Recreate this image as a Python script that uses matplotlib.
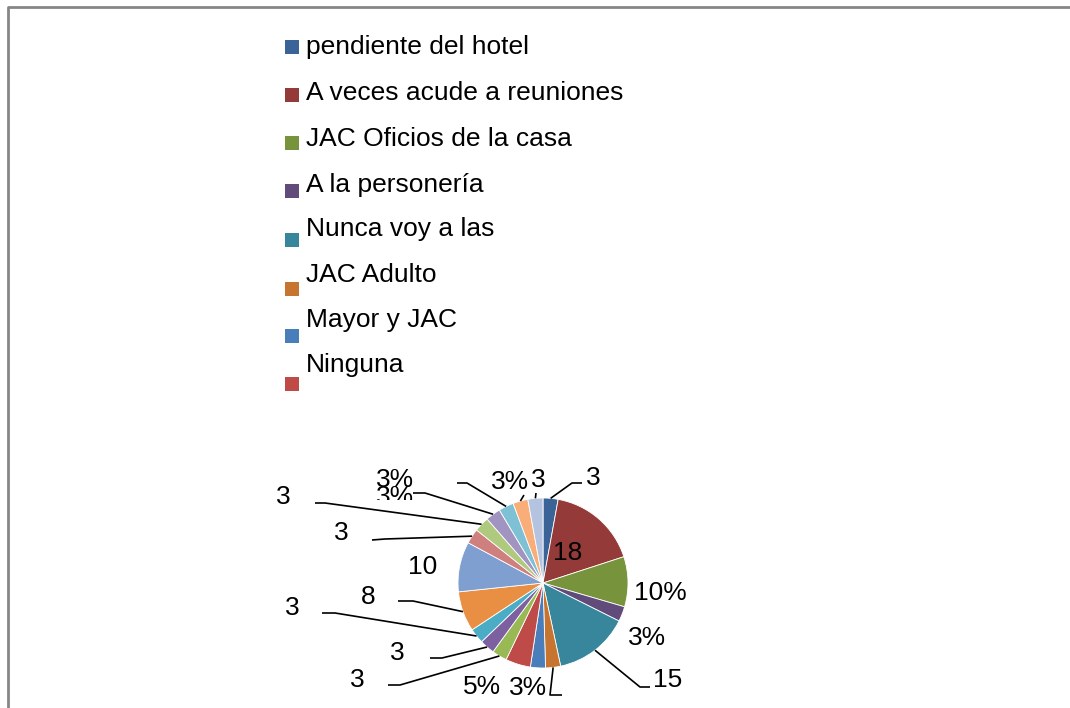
import numpy as np
import matplotlib.pyplot as plt
from matplotlib.patches import Rectangle
from matplotlib.transforms import Bbox, TransformedBbox

plt.rcParams["font.family"] = ["Liberation Sans", "DejaVu Sans"]

# datos: 19 porciones (solo las 8 primeras caben en la leyenda)
legend_labels = [
    "pendiente del hotel",
    "A veces acude a reuniones",
    "JAC Oficios de la casa",
    "A la personería",
    "Nunca voy a las",
    "JAC Adulto",
    "Mayor y JAC",
    "Ninguna",
]
values = [3, 18, 10, 3, 15, 3, 3, 5, 3, 3, 3, 8, 10, 3, 3, 3, 3, 3, 3]
# tipo de etiqueta: valor, porcentaje o nada (queda fuera del recorte)
label_kind = ["v", "v", "p", "p", "v", None, "p", "p", "v", "v", "v",
              "v", "v", "v", "v", "p", "p", "p", "v"]
colors = ["#3A6497", "#943B39", "#77933C", "#604B7B", "#37869B", "#C6742F",
          "#4A7EBB", "#BE4B48", "#98B954", "#7D60A0", "#4BACC6", "#E98F44",
          "#7E9FCF", "#CF7F7D", "#AFC97E", "#A294C0", "#7EC0D4", "#F9AD78",
          "#B4C3DF"]

W, H = 1070, 708
FS = 19


def px(x, y):
    # coordenadas en pixeles de la imagen (y hacia abajo) -> datos
    return x, H - y


# posiciones de las etiquetas (pixeles) y quiebres de las guias
label_pos = [(593, 478), (568, 553), (660, 593), (647, 638), (668, 680),
             None, (528, 688), (482, 687), (357, 680), (397, 653),
             (292, 608), (368, 597), (423, 567), (341, 533), (283, 497),
             (395, 497), (395, 480), (510, 482), (538, 480)]
leader = {
    0: [(582, 483), (572, 483)],
    4: [(650, 687), (640, 687)],
    5: [(562, 695), (550, 695)],
    8: [(388, 685), (400, 685)],
    9: [(430, 658), (442, 658)],
    10: [(322, 613), (335, 613)],
    11: [(398, 601), (413, 601)],
    13: [(372, 540), (385, 539)],
    14: [(315, 503), (325, 503)],
    15: [(413, 493), (425, 493)],
    16: [(457, 483), (467, 483)],
    17: [(524, 495)],
    18: [(536, 493)],
}

fig = plt.figure(figsize=(W / 100, H / 100), dpi=100)
ax = fig.add_axes([0, 0, 1, 1])

cx, cy = px(543, 583)
r = 85
wedges, _ = ax.pie(values, colors=colors, startangle=90, counterclock=False,
                   center=(cx, cy), radius=r,
                   wedgeprops=dict(edgecolor="white", linewidth=0.6))
ax.set_xlim(0, W)
ax.set_ylim(0, H)
ax.set_aspect("equal")
ax.axis("off")

total = sum(values)
for i, w in enumerate(wedges):
    mid = np.deg2rad((w.theta1 + w.theta2) / 2)
    edge = (cx + r * np.cos(mid), cy + r * np.sin(mid))
    if i in leader:
        pts = [px(*p) for p in leader[i]] + [edge]
        ax.plot([p[0] for p in pts], [p[1] for p in pts], color="black",
                lw=1.2, solid_capstyle="butt", zorder=3)
    kind = label_kind[i]
    if kind is None or label_pos[i] is None:
        continue
    txt = str(values[i]) if kind == "v" else f"{round(100 * values[i] / total)}%"
    t = ax.text(*px(*label_pos[i]), txt, fontsize=FS, ha="center",
                va="center", zorder=4)
    if i == 15:
        # esta etiqueta aparece recortada por abajo en el original
        x0, y0 = px(300, 500)
        t.set_clip_path(None)
        t.set_clip_box(TransformedBbox(Bbox.from_extents(x0, y0, x0 + 200, y0 + 40),
                                       ax.transData))
        t.set_clip_on(True)

# leyenda manual (Excel la dejo truncada)
text_y = [47, 93, 139, 185, 229, 275, 320, 365]
box_y = [47, 95, 143, 191, 240, 289, 336, 384]
for lab, col, ty, by in zip(legend_labels, colors, text_y, box_y):
    ax.add_patch(Rectangle(px(285, by + 7), 14, 14, facecolor=col,
                           edgecolor="none"))
    ax.text(*px(306, ty), lab, fontsize=FS, ha="left", va="center")

# borde del area del grafico (recortado a la derecha y abajo)
ax.plot([7.5, 7.5, W + 5], [-5, H - 6.5, H - 6.5], color="#868686", lw=2,
        clip_on=False)

fig.savefig("out.png", dpi=100)
